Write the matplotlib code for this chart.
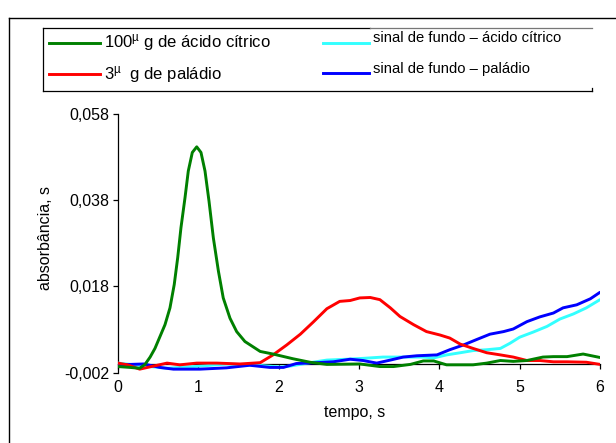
import matplotlib
matplotlib.use("Agg")
import matplotlib.pyplot as plt
from matplotlib.lines import Line2D

plt.rcParams['font.family'] = ['Liberation Sans', 'DejaVu Sans']
plt.rcParams['mathtext.fontset'] = 'custom'
plt.rcParams['mathtext.rm'] = 'Liberation Sans'
plt.rcParams['mathtext.it'] = 'Liberation Sans'

# ---- data -------------------------------------------------------------
t_citric = [0.0, 0.15, 0.27, 0.336, 0.40, 0.46, 0.585, 0.647, 0.70, 0.743, 0.784,
            0.834, 0.875, 0.925, 0.98, 1.033, 1.083, 1.133, 1.187, 1.25, 1.31,
            1.394, 1.477, 1.58, 1.77, 1.93, 2.18, 2.39, 2.60, 3.01, 3.26, 3.43,
            3.64, 3.80, 3.93, 4.09, 4.26, 4.42, 4.59, 4.76, 4.92, 5.09, 5.29,
            5.42, 5.59, 5.79, 6.0]
a_citric = [-0.0006, -0.0008, -0.0010, -0.0001, 0.0016, 0.0036, 0.0091, 0.0130,
            0.0184, 0.0246, 0.0316, 0.0385, 0.0447, 0.0490, 0.0503, 0.0490,
            0.0447, 0.0377, 0.0292, 0.0215, 0.0153, 0.0106, 0.0075, 0.0052,
            0.0029, 0.0023, 0.0012, 0.0004, -0.0001, 0.0000, -0.0006, -0.0006,
            -0.0001, 0.0007, 0.0007, -0.0002, -0.0002, -0.0002, 0.0002, 0.0008,
            0.0006, 0.0008, 0.0016, 0.0017, 0.0017, 0.0023, 0.0015]

t_pd = [0.0, 0.12, 0.27, 0.44, 0.61, 0.77, 0.98, 1.23, 1.52, 1.77, 1.93, 2.10,
        2.27, 2.43, 2.60, 2.76, 2.89, 3.01, 3.14, 3.26, 3.39, 3.51, 3.68, 3.84,
        4.01, 4.13, 4.26, 4.42, 4.59, 4.76, 4.92, 5.09, 5.25, 5.42, 5.59, 5.83,
        6.0]
a_pd = [0.0002, -0.0002, -0.0012, -0.0005, 0.0002, -0.0002, 0.0002, 0.0002, 0.0000,
        0.0003, 0.0021, 0.0044, 0.0069, 0.0097, 0.0128, 0.0145, 0.0147, 0.0153,
        0.0154, 0.0149, 0.0130, 0.0110, 0.0091, 0.0075, 0.0067, 0.0060, 0.0046,
        0.0036, 0.0026, 0.0021, 0.0016, 0.0008, 0.0008, 0.0005, 0.0005, 0.0004,
        -0.0001]

t_bg_citric = [0.0, 0.4, 0.61, 1.02, 1.35, 1.73, 2.02, 2.14, 2.39, 2.60, 2.85, 3.05,
               3.30, 3.55, 3.80, 3.93, 4.09, 4.26, 4.42, 4.59, 4.76, 4.88, 5.0,
               5.17, 5.34, 5.50, 5.67, 5.83, 6.0]
a_bg_citric = [0.0002, -0.0006, -0.0010, -0.0005, 0.0000, -0.0003, -0.0007, -0.0005,
               0.0003, 0.0009, 0.0011, 0.0013, 0.0016, 0.0016, 0.0016, 0.0014,
               0.0021, 0.0026, 0.0031, 0.0033, 0.0036, 0.0048, 0.0062, 0.0074,
               0.0087, 0.0104, 0.0116, 0.0130, 0.0149]

t_bg_pd = [0.0, 0.32, 0.52, 0.69, 1.02, 1.35, 1.64, 1.89, 2.06, 2.22, 2.47, 2.68,
           2.89, 3.05, 3.22, 3.39, 3.55, 3.72, 3.97, 4.13, 4.30, 4.47, 4.63, 4.80,
           4.92, 5.09, 5.25, 5.42, 5.54, 5.71, 5.88, 6.0]
a_bg_pd = [-0.0002, 0.0000, -0.0008, -0.0012, -0.0012, -0.0009, -0.0003, -0.0008,
           -0.0008, 0.0001, 0.0003, 0.0005, 0.0011, 0.0008, 0.0002, 0.0009, 0.0016,
           0.0019, 0.0021, 0.0033, 0.0044, 0.0057, 0.0069, 0.0075, 0.0081, 0.0098,
           0.0109, 0.0118, 0.0130, 0.0137, 0.0151, 0.0166]

x_ticks = [0, 1, 2, 3, 4, 5, 6]
y_ticks = [-0.002, 0.018, 0.038, 0.058]
y_tick_labels = ['-0,002', '0,018', '0,038', '0,058']

series = [
    (t_citric, a_citric, '#008000', '100$^{\\mathrm{µ}}$ g de ácido cítrico'),
    (t_pd, a_pd, '#ff0000', '3$^{\\mathrm{µ}}$  g de paládio'),
    (t_bg_citric, a_bg_citric, '#33ffff', 'sinal de fundo – ácido cítrico'),
    (t_bg_pd, a_bg_pd, '#0000ff', 'sinal de fundo – paládio'),
]

# ---- figure -----------------------------------------------------------
W, H = 616, 443
fig = plt.figure(figsize=(W / 100, H / 100), dpi=100)

def fx(px):
    return px / W

def fy(py):
    return 1 - py / H

ax = fig.add_axes([fx(118), fy(372.6), fx(600) - fx(118), fy(113.6) - fy(372.6)])
ax.set_facecolor('none')

# draw order: backgrounds first, then samples on top
for idx in (2, 3, 1, 0):
    t, a, c, _ = series[idx]
    ax.plot(t, a, color=c, lw=2.1, solid_capstyle='round', solid_joinstyle='round',
            zorder=3)

ax.set_xlim(0, 6)
ax.set_ylim(-0.002, 0.058)
ax.set_xticks(x_ticks)
ax.set_xticklabels([str(v) for v in x_ticks])
ax.set_yticks(y_ticks)
ax.set_yticklabels(y_tick_labels)

for s in ('top', 'right'):
    ax.spines[s].set_visible(False)
ax.spines['bottom'].set_position(('data', 0))
for s in ('bottom', 'left'):
    ax.spines[s].set_linewidth(0.9)
    ax.spines[s].set_color('black')
    ax.spines[s].set_zorder(2)

ax.tick_params(axis='both', direction='out', length=3.5, width=0.9, colors='black',
               labelsize=11.5)
ax.tick_params(axis='x', pad=8)
ax.tick_params(axis='y', pad=3)

fig.text(fx(355), fy(412), 'tempo, s', ha='center', va='center', fontsize=11.5)
fig.text(fx(45), fy(238), 'absorbância, s', ha='center', va='center',
         rotation=90, fontsize=11.5)

# outer frame
fig.add_artist(Line2D([fx(8.5), fx(8.5)], [fy(18), fy(443)], color='black', lw=1.0))
fig.add_artist(Line2D([fx(8.5), fx(616)], [fy(18), fy(18)], color='black', lw=1.0))

# legend box
L, R, T, B = 43, 592, 27.5, 91
fig.add_artist(Line2D([fx(L), fx(370)], [fy(T), fy(T)], color='black', lw=0.9))
fig.add_artist(Line2D([fx(370), fx(R)], [fy(T), fy(T)], color='#777777', lw=0.9))
fig.add_artist(Line2D([fx(L), fx(L)], [fy(T), fy(B)], color='black', lw=0.9))
fig.add_artist(Line2D([fx(L), fx(R)], [fy(B), fy(B)], color='black', lw=0.9))
fig.add_artist(Line2D([fx(R), fx(R)], [fy(B - 3), fy(B)], color='black', lw=0.9))

legend_layout = [
    (49, 100, 42.5, 104, 42.5, 12),
    (49, 100, 74, 104, 74, 12),
    (323, 369, 42.5, 373, 38, 10.6),
    (323, 369, 73, 373, 69, 10.6),
]
for (t, a, c, label), (x0, x1, ly, tx, ty, fs) in zip(series, legend_layout):
    fig.add_artist(Line2D([fx(x0), fx(x1)], [fy(ly), fy(ly)], color=c, lw=2.1))
    fig.text(fx(tx), fy(ty), label, ha='left', va='center', fontsize=fs)

fig.savefig('out.png', dpi=100)
